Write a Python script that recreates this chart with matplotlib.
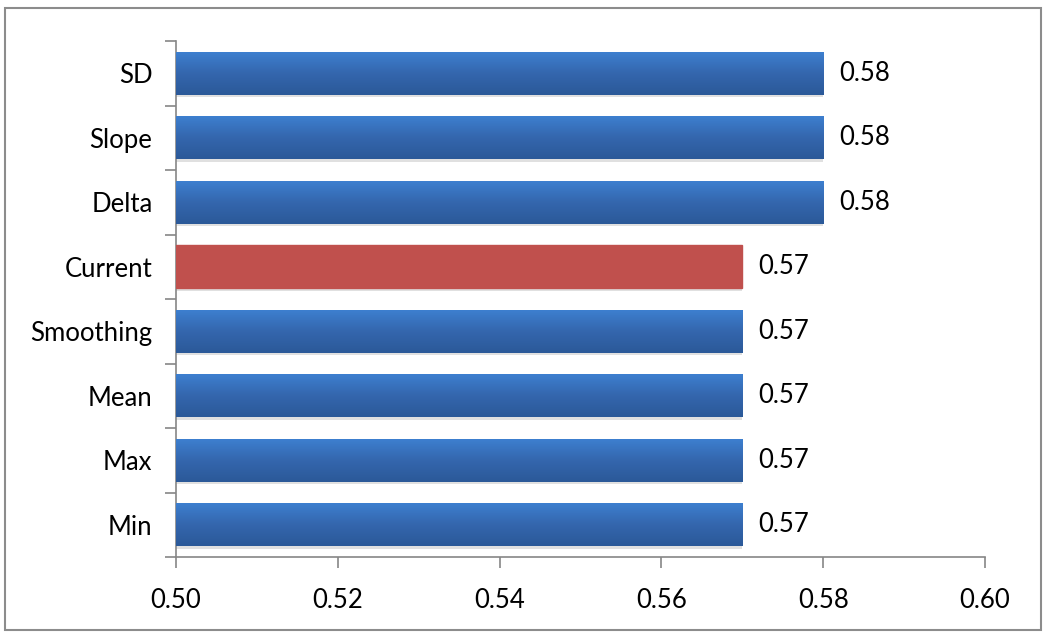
import matplotlib
matplotlib.use("Agg")
import matplotlib.pyplot as plt
import numpy as np
from matplotlib.patches import Rectangle

# data (bottom -> top)
categories = ["Min", "Max", "Mean", "Smoothing", "Current", "Delta", "Slope", "SD"]
values = [0.57, 0.57, 0.57, 0.57, 0.57, 0.58, 0.58, 0.58]
highlight = "Current"
x_ticks = [0.50, 0.52, 0.54, 0.56, 0.58, 0.60]

plt.rcParams['font.family'] = ['Lato', 'DejaVu Sans']
FS = 18.5

fig = plt.figure(figsize=(10.5, 6.38), dpi=100)
ax = fig.add_axes([176 / 1050, 81 / 638, 809 / 1050, 516 / 638])

# outer chart border
fig.patches.append(Rectangle((5 / 1050, 8 / 638), 1036 / 1050, 622 / 638,
                             transform=fig.transFigure, fill=False,
                             edgecolor="#8c8c8c", linewidth=1.5))

bar_h = 0.66
y = np.arange(len(categories))

# soft shadow under each bar
ax.barh(y - 0.04, np.array(values) - 0.5, left=0.5, height=bar_h,
        color="#e0e0e0", zorder=1)

bars = ax.barh(y, np.array(values) - 0.5, left=0.5, height=bar_h,
               color="none", zorder=2)

grad_blue = np.linspace(0, 1, 100).reshape(-1, 1)
blue_cmap = matplotlib.colors.LinearSegmentedColormap.from_list(
    "b", ["#2b5998", "#3466ad", "#3d7fcf"])
for cat, b in zip(categories, bars):
    x0, y0 = b.get_x(), b.get_y()
    w, h = b.get_width(), b.get_height()
    if cat == highlight:
        ax.add_patch(Rectangle((x0, y0), w, h, color="#c0504d", zorder=3))
    else:
        im = ax.imshow(grad_blue, cmap=blue_cmap, aspect="auto",
                       extent=[x0, x0 + w, y0, y0 + h], origin="lower",
                       zorder=3)
        im.set_clip_path(b)

for yi, v in zip(y, values):
    ax.text(v + 0.002, yi, f"{v:.2f}", va="center", ha="left",
            fontsize=FS, color="black")

ax.set_xlim(0.5, 0.6)
ax.set_ylim(-0.5, len(categories) - 0.5)
ax.set_xticks(x_ticks)
ax.set_xticklabels([f"{t:.2f}" for t in x_ticks], fontsize=FS)
ax.set_yticks(y)
ax.set_yticklabels(categories, fontsize=FS)
ax.set_yticks(np.arange(-0.5, len(categories), 1.0), minor=True)

ax.tick_params(axis="y", which="major", length=0, pad=17)
ax.tick_params(axis="y", which="minor", length=8, color="#868686", width=1.2)
ax.tick_params(axis="x", length=8, color="#868686", width=1.2, pad=14)

for s in ["top", "right"]:
    ax.spines[s].set_visible(False)
for s in ["left", "bottom"]:
    ax.spines[s].set_color("#868686")
    ax.spines[s].set_linewidth(1.2)

fig.savefig("out.png", dpi=100)
